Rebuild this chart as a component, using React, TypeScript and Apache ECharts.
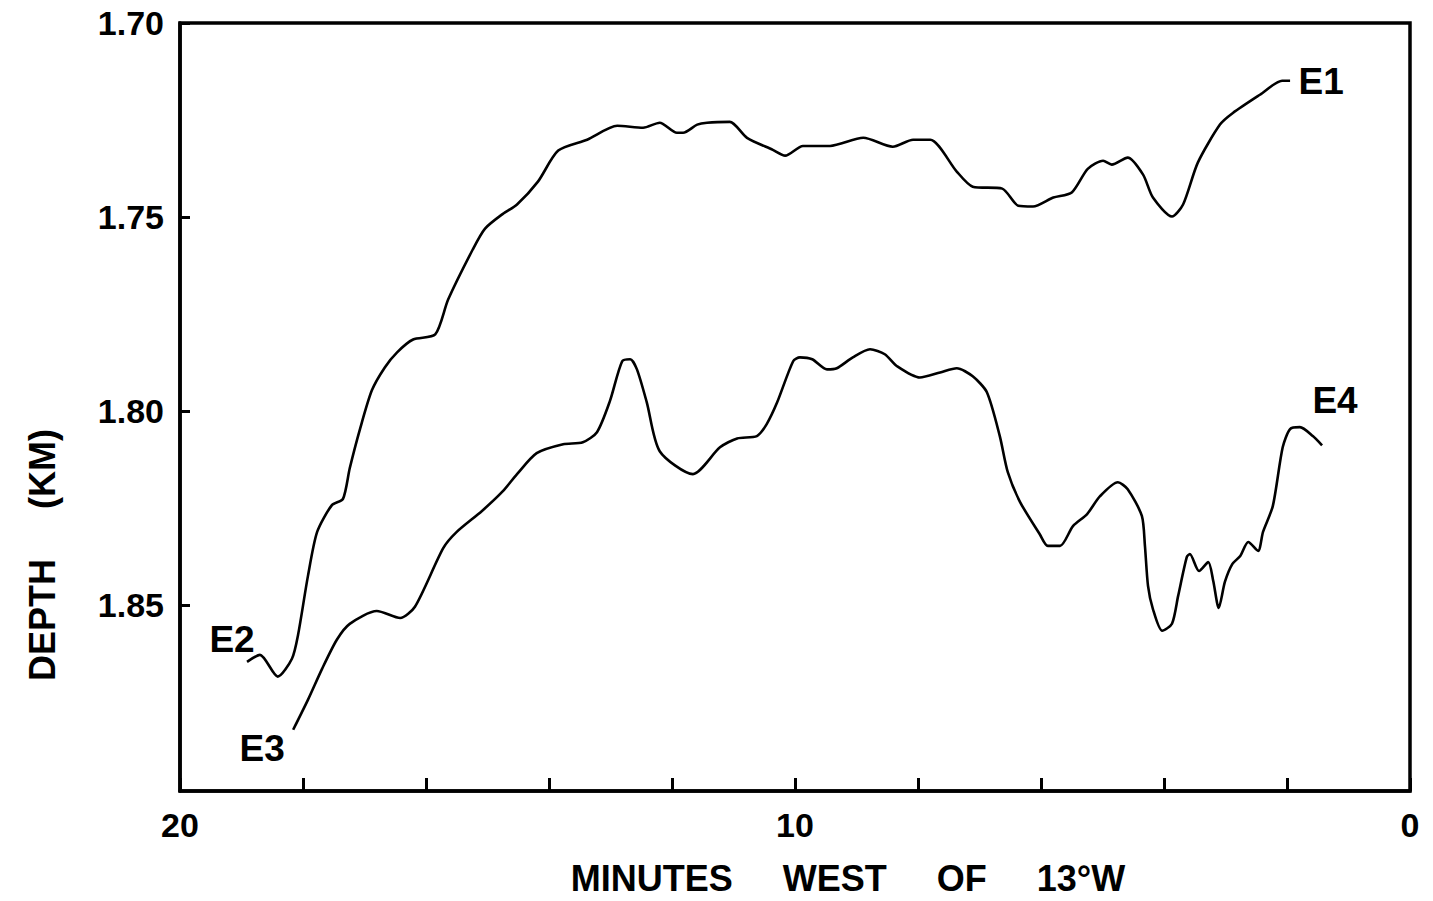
import React, { useEffect, useRef } from "react";
import * as echarts from "echarts";

// Upper profile (E2 at its west end, E1 at its east end): minutes west of 13°W, depth km
const upperMinutes = [18.91, 18.70, 18.41, 18.18, 18.08, 17.92, 17.77, 17.53, 17.35, 17.24, 17.07, 16.88, 16.67, 16.47, 16.21, 15.85, 15.64, 15.24, 15.04, 14.75, 14.52, 14.18, 13.85, 13.38, 12.89, 12.47, 12.20, 11.92, 11.82, 11.59, 11.43, 11.06, 10.78, 10.36, 10.16, 9.87, 9.43, 8.89, 8.41, 8.08, 7.80, 7.37, 7.11, 6.63, 6.37, 6.13, 5.80, 5.50, 5.24, 4.99, 4.85, 4.59, 4.34, 4.18, 3.87, 3.69, 3.45, 3.09, 2.88, 2.44, 2.08, 1.95];
const upperDepth = [1.8647, 1.8629, 1.8685, 1.8639, 1.8577, 1.8426, 1.8312, 1.8243, 1.8227, 1.8148, 1.8045, 1.7947, 1.7888, 1.7849, 1.7816, 1.7803, 1.7713, 1.7584, 1.7530, 1.7492, 1.7468, 1.7409, 1.7329, 1.7301, 1.7265, 1.7270, 1.7257, 1.7283, 1.7283, 1.7262, 1.7257, 1.7255, 1.7296, 1.7327, 1.7342, 1.7317, 1.7317, 1.7296, 1.7319, 1.7301, 1.7301, 1.7383, 1.7422, 1.7427, 1.7471, 1.7473, 1.7450, 1.7437, 1.7376, 1.7355, 1.7365, 1.7347, 1.7391, 1.7450, 1.7499, 1.7468, 1.7360, 1.7262, 1.7232, 1.7185, 1.7149, 1.7149];

// Lower profile (E3 at its west end, E4 at its east end)
const lowerMinutes = [18.16, 17.92, 17.69, 17.45, 17.24, 16.80, 16.42, 16.18, 15.72, 15.50, 15.09, 14.75, 14.52, 14.20, 13.77, 13.45, 13.22, 13.01, 12.81, 12.68, 12.57, 12.41, 12.20, 11.66, 11.22, 10.94, 10.62, 10.46, 10.29, 10.03, 9.92, 9.72, 9.48, 9.32, 9.06, 8.78, 8.54, 8.34, 7.97, 7.64, 7.37, 7.11, 6.88, 6.67, 6.54, 6.34, 6.02, 5.89, 5.69, 5.48, 5.25, 5.04, 4.75, 4.59, 4.36, 4.31, 4.26, 4.18, 4.03, 3.87, 3.77, 3.63, 3.58, 3.43, 3.28, 3.20, 3.11, 3.01, 2.89, 2.76, 2.63, 2.47, 2.39, 2.23, 2.07, 1.95, 1.79, 1.58, 1.43];
const lowerDepth = [1.8822, 1.8745, 1.8665, 1.8590, 1.8549, 1.8516, 1.8534, 1.8505, 1.8354, 1.8312, 1.8258, 1.8207, 1.8163, 1.8109, 1.8086, 1.8081, 1.8055, 1.7975, 1.7872, 1.7867, 1.7893, 1.7978, 1.8104, 1.8163, 1.8094, 1.8071, 1.8065, 1.8034, 1.7978, 1.7872, 1.7862, 1.7867, 1.7893, 1.7890, 1.7862, 1.7841, 1.7854, 1.7885, 1.7914, 1.7901, 1.7890, 1.7911, 1.7952, 1.8065, 1.8158, 1.8235, 1.8318, 1.8348, 1.8348, 1.8297, 1.8266, 1.8220, 1.8184, 1.8202, 1.8271, 1.8348, 1.8451, 1.8511, 1.8567, 1.8549, 1.8477, 1.8377, 1.8369, 1.8413, 1.8390, 1.8438, 1.8508, 1.8441, 1.8395, 1.8374, 1.8338, 1.8361, 1.8312, 1.8245, 1.8094, 1.8047, 1.8042, 1.8065, 1.8089];

const xTickLabels = [20, 10, 0];
const yTickLabels = [1.70, 1.75, 1.80, 1.85];
const profileNames = ["E2", "E1", "E3", "E4"];
const xTitle = "MINUTES     WEST     OF     13°W";
const yTitle = "DEPTH     (KM)";

const FONT = "'Liberation Sans', Arial, Helvetica, sans-serif";

function zip(xs: number[], ys: number[]) {
  return xs.map((x, i) => [x, ys[i]]);
}

export default function App() {
  const ref = useRef<HTMLDivElement>(null);
  useEffect(() => {
    if (!ref.current) return;
    const chart = echarts.init(ref.current, undefined, { renderer: "svg" });
    const upper = zip(upperMinutes, upperDepth);
    const lower = zip(lowerMinutes, lowerDepth);
    const labelStyle = {
      show: true,
      color: "#000",
      fontFamily: FONT,
      fontWeight: "bold" as const,
      fontSize: 37,
      position: "inside" as const,
    };
    const lineStyle = { color: "#000", width: 2.6 };
    chart.setOption({
      animation: false,
      backgroundColor: "#fff",
      grid: {
        left: 180,
        top: 23,
        right: 23,
        bottom: 110,
        show: true,
        borderColor: "#000",
        borderWidth: 3.5,
        backgroundColor: "transparent",
      },
      xAxis: {
        type: "value",
        min: 0,
        max: 20,
        interval: 2,
        inverse: true,
        splitLine: { show: false },
        axisLine: { show: true, onZero: false, lineStyle: { color: "#000", width: 3.5 } },
        axisTick: { show: true, inside: true, length: 13, lineStyle: { color: "#000", width: 3 } },
        axisLabel: {
          margin: 17,
          color: "#000",
          fontFamily: FONT,
          fontWeight: "bold",
          fontSize: 34,
          formatter: (v: number) => (xTickLabels.includes(v) ? String(v) : ""),
        },
      },
      yAxis: {
        type: "value",
        min: 1.7,
        max: 1.898,
        interval: 0.05,
        inverse: true,
        splitLine: { show: false },
        axisLine: { show: true, onZero: false, lineStyle: { color: "#000", width: 3.5 } },
        axisTick: { show: true, inside: true, length: 10, lineStyle: { color: "#000", width: 3 } },
        axisLabel: {
          margin: 16,
          color: "#000",
          fontFamily: FONT,
          fontWeight: "bold",
          fontSize: 34,
          showMaxLabel: false,
          formatter: (v: number) => {
            const hit = yTickLabels.find((t) => Math.abs(t - v) < 1e-6);
            return hit !== undefined ? hit.toFixed(2) : "";
          },
        },
      },
      graphic: [
        {
          type: "text",
          x: 848,
          y: 878,
          style: {
            text: xTitle,
            fill: "#000",
            font: `bold 36px ${FONT}`,
            textAlign: "center",
            textVerticalAlign: "middle",
          },
        },
        {
          type: "text",
          x: 42,
          y: 555,
          rotation: Math.PI / 2,
          style: {
            text: yTitle,
            fill: "#000",
            font: `bold 36px ${FONT}`,
            textAlign: "center",
            textVerticalAlign: "middle",
          },
        },
      ],
      series: [
        {
          type: "line",
          data: upper,
          showSymbol: false,
          symbol: "none",
          smooth: 0.25,
          lineStyle,
          markPoint: {
            symbolSize: 0,
            data: [
              { coord: upper[0], label: { ...labelStyle, formatter: profileNames[0], offset: [-15, -22] } },
              { coord: upper[upper.length - 1], label: { ...labelStyle, formatter: profileNames[1], offset: [31, 1] } },
            ],
          },
        },
        {
          type: "line",
          data: lower,
          showSymbol: false,
          symbol: "none",
          smooth: 0.25,
          lineStyle,
          markPoint: {
            symbolSize: 0,
            data: [
              { coord: lower[0], label: { ...labelStyle, formatter: profileNames[2], offset: [-31, 19] } },
              { coord: lower[lower.length - 1], label: { ...labelStyle, formatter: profileNames[3], offset: [13, -45] } },
            ],
          },
        },
      ],
    });
    return () => chart.dispose();
  }, []);
  return (
    <div
      ref={ref}
      style={{ position: "absolute", left: 0, top: 0, width: 1433, height: 901 }}
    />
  );
}
